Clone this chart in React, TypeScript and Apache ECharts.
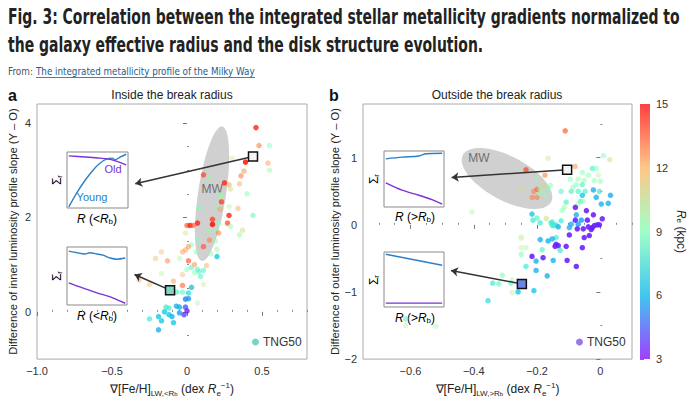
import React, { useEffect, useRef } from "react";
import * as echarts from "echarts";

const FONT = '"Liberation Sans", Arial, sans-serif';
const TITLE_FONT = '"Liberation Sans Narrow", "DejaVu Sans Condensed", "Liberation Sans", sans-serif';

const titleLines = [
  "Fig. 3: Correlation between the integrated stellar metallicity gradients normalized to",
  "the galaxy effective radius and the disk structure evolution.",
];
const sourceLabel = "From:";
const sourceLink = "The integrated metallicity profile of the Milky Way";
const panelTitles = ["Inside the break radius", "Outside the break radius"];
const seriesName = "TNG50";

// [gradient, slope difference, Re (kpc), visibility weight]
const leftPoints = [
  [0.46, 3.9, 14.5, 0.8], [0.48, 3.52, 13, 0.6], [0.55, 3.52, 9, 0.5], [0.39, 3.17, 14.5, 0.9],
  [0.54, 3.15, 12.5, 0.5], [0.55, 3.0, 10, 0.5], [0.3, 3.25, 10.5, 0.4], [0.38, 2.98, 12.5, 0.6],
  [0.36, 2.88, 13, 0.6], [0.11, 2.9, 14, 0.7], [0.15, 2.85, 9.5, 0.5], [0.25, 2.73, 14.5, 0.8],
  [0.28, 2.69, 12, 0.6], [0.29, 2.6, 11, 0.5], [0.35, 2.71, 12, 0.5], [0.22, 2.48, 9.5, 0.6],
  [0.23, 2.42, 10, 0.5], [0.4, 2.5, 9, 0.5], [0.23, 2.33, 14, 0.8], [0.08, 2.2, 9, 0.6],
  [0.2, 2.2, 9.5, 0.5], [0.28, 2.23, 10, 0.4], [0.34, 2.19, 12, 0.5], [0.28, 2.04, 14.5, 0.8],
  [0.17, 1.96, 14, 0.8], [0.44, 2.04, 8.5, 0.6], [0.07, 1.88, 14.5, 0.8], [0.17, 1.85, 15, 0.8],
  [0.27, 1.88, 14, 0.7], [0.0, 1.83, 13.5, 0.7], [0.02, 1.83, 14.5, 0.8], [0.21, 1.88, 9, 0.5],
  [0.29, 1.81, 9.5, 0.5], [0.14, 1.73, 9.5, 0.5], [0.19, 1.71, 9, 0.5], [-0.01, 1.67, 11, 0.4],
  [0.21, 1.67, 13, 0.6], [0.37, 1.73, 11, 0.5], [0.35, 1.63, 9.5, 0.5], [0.07, 1.54, 9, 0.5],
  [0.15, 1.52, 13, 0.6], [0.19, 1.5, 9.5, 0.5], [0.03, 1.42, 9, 0.5], [0.01, 1.38, 12.5, 0.6],
  [0.11, 1.38, 14, 0.6], [0.2, 1.33, 9.5, 0.5], [-0.01, 1.31, 12.5, 0.5], [-0.03, 1.27, 12.5, 0.5],
  [-0.17, 1.27, 12, 0.4], [0.06, 1.27, 9, 0.5], [0.16, 1.23, 9.5, 0.5], [0.2, 1.17, 6.5, 0.8],
  [-0.21, 1.13, 12, 0.4], [-0.13, 1.08, 13, 0.5], [-0.05, 1.13, 10, 0.4], [0.01, 1.08, 14, 0.6],
  [0.05, 1.0, 12.5, 0.6], [0.13, 0.98, 12, 0.5], [0.03, 0.94, 8, 0.6], [0.0, 0.9, 9, 0.5],
  [0.07, 0.9, 8, 0.6], [0.08, 0.85, 8, 0.6], [0.11, 0.88, 8, 0.6], [0.05, 0.83, 9, 0.5],
  [-0.03, 0.79, 12, 0.4], [0.09, 0.75, 8, 0.6], [-0.17, 0.81, 10, 0.4], [-0.32, 0.67, 12, 0.4],
  [-0.25, 0.58, 12, 0.4], [-0.09, 0.65, 12.5, 0.5], [-0.03, 0.56, 13.5, 0.6], [0.03, 0.52, 6.5, 0.8],
  [0.11, 0.58, 10.5, 0.4], [-0.07, 0.42, 8, 0.7], [-0.03, 0.42, 8, 0.6], [0.01, 0.4, 7, 0.7],
  [-0.01, 0.27, 5, 0.8], [0.01, 0.28, 5.5, 0.8], [0.07, 0.19, 10, 0.4], [-0.14, 0.1, 7.5, 0.7],
  [-0.12, 0.08, 7.5, 0.7], [-0.07, 0.12, 6, 0.8], [-0.05, 0.1, 6, 0.8], [-0.01, 0.1, 4.5, 0.8],
  [-0.15, 0.0, 6.5, 0.8], [-0.05, -0.02, 5.5, 0.8], [0.0, 0.02, 3.5, 0.8], [-0.02, -0.06, 4, 0.8],
  [-0.12, -0.06, 6.5, 0.8], [-0.1, -0.1, 6, 0.8], [-0.19, -0.1, 6.5, 0.8], [-0.25, -0.15, 7.5, 0.7],
  [-0.17, -0.19, 6.5, 0.8], [-0.09, -0.23, 6.5, 0.8], [-0.19, -0.38, 6, 0.8], [0.04, 1.83, 14, 0.6],
  [0.22, 2.17, 12.5, 0.5],
];

const rightPoints = [
  [-0.165, 0.99, 11, 0.4], [-0.235, 0.82, 14, 0.7], [-0.2, 0.7, 9.5, 0.4], [-0.175, 0.74, 13, 0.6],
  [-0.25, 0.54, 11, 0.4], [-0.21, 0.5, 13, 0.6], [-0.2, 0.53, 13.5, 0.6], [-0.19, 0.54, 9.5, 0.5],
  [-0.18, 0.57, 11, 0.5], [-0.165, 0.54, 9, 0.5], [-0.158, 0.59, 9, 0.5], [-0.215, 0.41, 13, 0.6],
  [-0.2, 0.41, 13, 0.6], [-0.19, 0.46, 9.5, 0.5], [-0.175, 0.44, 9, 0.5], [-0.406, 0.19, 10, 0.4],
  [-0.216, 0.16, 6.5, 0.8], [-0.2, 0.1, 8, 0.7], [-0.171, 0.1, 10.5, 0.4], [-0.19, 0.03, 7.5, 0.7],
  [-0.156, 0.03, 7.5, 0.7], [-0.146, -0.01, 7.5, 0.7], [-0.25, -0.18, 10.5, 0.4], [-0.19, -0.22, 6, 0.8],
  [-0.165, -0.24, 6, 0.8], [-0.111, 1.4, 13.5, 0.7], [-0.08, 0.87, 12.5, 0.6], [0.01, 1.03, 9, 0.5],
  [0.03, 0.97, 11, 0.5], [-0.057, 0.78, 9, 0.5], [-0.025, 0.84, 8, 0.7], [-0.013, 0.84, 9, 0.5],
  [-0.038, 0.74, 9, 0.5], [-0.006, 0.74, 10, 0.4], [-0.095, 0.68, 9, 0.5], [-0.07, 0.68, 9.5, 0.5],
  [-0.051, 0.66, 9.5, 0.5], [-0.019, 0.66, 9, 0.5], [0.0, 0.65, 9.5, 0.5], [-0.076, 0.6, 9, 0.5],
  [-0.057, 0.6, 8, 0.7], [-0.086, 0.56, 9, 0.5], [-0.092, 0.5, 8, 0.7], [-0.07, 0.5, 8, 0.7],
  [-0.124, 0.5, 8, 0.6], [-0.048, 0.5, 8, 0.7], [-0.022, 0.52, 6, 0.8], [-0.003, 0.5, 7.5, 0.7],
  [0.032, 0.44, 6, 0.8], [-0.013, 0.41, 6, 0.8], [-0.057, 0.44, 6.5, 0.8], [-0.063, 0.35, 8, 0.7],
  [-0.054, 0.35, 9.5, 0.5], [-0.108, 0.34, 8, 0.7], [0.003, 0.31, 6, 0.8], [0.025, 0.32, 6, 0.8],
  [-0.07, 0.31, 9.5, 0.5], [-0.079, 0.26, 3.5, 0.9], [-0.114, 0.26, 9.5, 0.5], [-0.121, 0.21, 9, 0.5],
  [-0.044, 0.21, 3.5, 0.9], [-0.022, 0.15, 3.5, 0.9], [-0.076, 0.15, 6, 0.8], [-0.213, 0.07, 7.5, 0.7],
  [-0.171, 0.09, 11, 0.4], [-0.152, 0.04, 7.5, 0.7], [-0.124, 0.06, 7.5, 0.7], [-0.079, 0.07, 3.5, 0.9],
  [-0.06, 0.07, 5.5, 0.8], [-0.041, 0.07, 3.5, 0.9], [0.006, 0.09, 3.5, 0.9], [-0.07, 0.01, 5.5, 0.8],
  [-0.092, 0.01, 6, 0.8], [-0.14, 0.0, 7.5, 0.7], [-0.152, -0.01, 7.5, 0.7], [-0.133, -0.03, 6, 0.8],
  [-0.098, -0.04, 6, 0.8], [-0.073, -0.06, 3.5, 0.9], [-0.054, -0.06, 3.5, 0.9], [-0.038, -0.03, 3.5, 0.9],
  [-0.025, -0.04, 3.5, 0.9], [-0.019, -0.01, 3.5, 0.9], [-0.01, 0.0, 3.5, 0.9], [-0.003, 0.0, 3.5, 0.9],
  [-0.029, -0.07, 3.5, 0.9], [-0.098, -0.15, 3.5, 0.9], [-0.051, -0.19, 3.5, 0.9], [-0.035, -0.16, 3.5, 0.9],
  [-0.14, -0.19, 7.5, 0.7], [-0.152, -0.21, 6, 0.8], [-0.14, -0.29, 3.5, 0.9], [-0.133, -0.31, 3.5, 0.9],
  [-0.143, -0.32, 3.5, 0.9], [-0.108, -0.32, 3.5, 0.9], [-0.127, -0.38, 7.5, 0.7], [-0.057, -0.34, 3.5, 0.9],
  [-0.184, -0.37, 8, 0.7], [-0.216, -0.47, 3.5, 0.9], [-0.181, -0.49, 3.5, 0.9], [-0.203, -0.54, 6, 0.8],
  [-0.149, -0.53, 6, 0.8], [-0.105, -0.53, 3.5, 0.9], [-0.076, -0.62, 3.5, 0.9], [-0.203, -0.68, 6, 0.8],
  [-0.168, -0.76, 6, 0.8], [-0.25, -0.44, 9, 0.6], [-0.25, -0.34, 10.5, 0.4], [-0.235, -0.34, 9.5, 0.4],
  [-0.25, -0.21, 10.5, 0.3], [-0.235, -0.62, 7.5, 0.7], [-0.31, -0.75, 9, 0.6], [-0.279, -0.82, 10, 0.4],
  [-0.34, -0.87, 7.5, 0.7], [-0.321, -0.88, 8, 0.6], [-0.283, -0.87, 8, 0.6], [-0.26, -1.0, 6.5, 0.8],
  [-0.279, -1.01, 10, 0.4], [-0.21, -0.98, 6.5, 0.8], [-0.355, -1.13, 7, 0.7], [-0.615, -1.4, 8, 0.6],
  [-0.615, -1.5, 10.5, 0.4], [-0.52, -1.51, 10, 0.4],
];

// highlighted galaxies [x, y] and arrow end points (towards the insets)
const leftHighlights = [[0.44, 3.29], [-0.113, 0.46]];
const leftArrowEnds = [[-0.345, 2.71], [-0.35, 0.79]];
const rightHighlights = [[-0.105, 0.82], [-0.248, -0.88]];
const rightArrowEnds = [[-0.47, 0.706], [-0.472, -0.68]];
const leftMW = [[0.167, 2.5]];
const rightMW = [[-0.295, 0.69]];

const leftXTicks = [-1, -0.5, 0, 0.5];
const leftXMinor = [-0.9, -0.8, -0.7, -0.6, -0.4, -0.3, -0.2, -0.1, 0.1, 0.2, 0.3, 0.4, 0.6, 0.7, 0.8];
const leftYTicks = [0, 2, 4];
const leftYMinor = [-0.5, 0.5, 1, 1.5, 2.5, 3, 3.5];
const rightXTicks = [-0.6, -0.4, -0.2, 0];
const rightXMinor = [-0.7, -0.65, -0.55, -0.5, -0.45, -0.35, -0.3, -0.25, -0.15, -0.1, -0.05, 0.05, 0.1];
const rightYTicks = [-2, -1, 0, 1];
const rightYMinor = [-1.5, -0.5, 0.5, 1.5];
const colorTicks = [3, 6, 9, 12, 15];

// inset profiles (normalised radius, normalised surface density)
const insetA1Young = [[0.03, 0.02], [0.16, 0.27], [0.3, 0.5], [0.43, 0.68], [0.54, 0.8], [0.66, 0.88], [0.74, 0.89], [0.79, 0.86], [0.87, 0.91], [0.97, 0.96]];
const insetA1Old = [[0.03, 0.93], [0.3, 0.91], [0.54, 0.89], [0.74, 0.86], [0.97, 0.77]];
const insetA2Young = [[0.03, 0.93], [0.17, 0.9], [0.3, 0.88], [0.38, 0.9], [0.5, 0.88], [0.6, 0.86], [0.72, 0.81], [0.83, 0.79], [0.97, 0.81]];
const insetA2Old = [[0.03, 0.38], [0.27, 0.29], [0.5, 0.21], [0.72, 0.14], [0.97, 0.03]];
const insetB1Young = [[0.03, 0.86], [0.3, 0.89], [0.58, 0.91], [0.7, 0.95], [0.97, 0.96]];
const insetB1Old = [[0.03, 0.43], [0.3, 0.3], [0.58, 0.21], [0.8, 0.13], [0.97, 0.05]];
const insetB2Young = [[0.03, 0.96], [0.97, 0.76]];
const insetB2Old = [[0.03, 0.07], [0.97, 0.07]];

const YOUNG = "#2b7fc6";
const OLD = "#7a32d6";

function rainbow(t: number, a = 1) {
  const r = Math.min(1, Math.abs(2 * t - 0.5));
  const g = Math.sin(Math.PI * t);
  const b = Math.cos((Math.PI * t) / 2);
  const mix = (c: number) => Math.round(255 * (c * a + (1 - a)));
  return `rgb(${mix(r)},${mix(g)},${mix(b)})`;
}
const rainbowStops = [0, 0.1, 0.2, 0.3, 0.4, 0.5, 0.6, 0.7, 0.8, 0.9, 1].map((t) => rainbow(t));

const fmt = (d: number) => (v: number) =>
  v === 0 ? "0" : (v < 0 ? "\u2212" : "") + Math.abs(v).toFixed(d);

const axisText = { color: "#333", fontSize: 11, fontFamily: FONT };
const nameRich = {
  n: { fontSize: 12, fontFamily: FONT, color: "#222" },
  i: { fontSize: 12, fontFamily: FONT, color: "#222", fontStyle: "italic" },
  s: { fontSize: 8, fontFamily: FONT, color: "#222", verticalAlign: "bottom", lineHeight: 9 },
  ss: { fontSize: 6, fontFamily: FONT, color: "#222", verticalAlign: "bottom", lineHeight: 6 },
  p: { fontSize: 8, fontFamily: FONT, color: "#222", verticalAlign: "top", lineHeight: 9 },
};

function mainX(grid: number, min: number, max: number, ticks: number[], d: number, name: string) {
  return {
    gridIndex: grid, type: "value", min, max,
    axisLine: { show: false }, splitLine: { show: false },
    axisTick: { customValues: ticks, length: 4, lineStyle: { color: "#777" } },
    axisLabel: { customValues: ticks, formatter: fmt(d), margin: 6, ...axisText },
    name, nameLocation: "middle", nameGap: 18,
    nameTextStyle: { fontSize: 12, fontFamily: FONT, color: "#222", lineHeight: 16, rich: nameRich },
  };
}
function mainY(grid: number, min: number, max: number, ticks: number[], name: string, gap: number) {
  return {
    gridIndex: grid, type: "value", min, max,
    axisLine: { show: false }, splitLine: { show: false },
    axisTick: { customValues: ticks, length: 4, lineStyle: { color: "#777" } },
    axisLabel: { customValues: ticks, formatter: fmt(0), margin: 6, ...axisText },
    name, nameLocation: "middle", nameGap: gap,
    nameTextStyle: { fontSize: 11.2, fontFamily: FONT, color: "#222" },
  };
}
function minorAxis(grid: number, min: number, max: number, ticks: number[]) {
  return {
    gridIndex: grid, type: "value", min, max,
    axisLine: { show: false }, splitLine: { show: false }, axisLabel: { show: false },
    axisTick: { customValues: ticks, length: 2, lineStyle: { color: "#888" } },
  };
}
function hiddenAxis(grid: number) {
  return { gridIndex: grid, type: "value", min: 0, max: 1, show: false };
}

function ellipseSeries(xi: number, data: number[][], rx: number, ry: number, rot: number, dx: number, dy: number) {
  return {
    type: "custom", xAxisIndex: xi, yAxisIndex: xi, z: 1, silent: true, data,
    renderItem: (_p: any, api: any) => {
      const c = api.coord([api.value(0), api.value(1)]);
      return {
        type: "group",
        children: [
          { type: "ellipse", x: c[0], y: c[1], rotation: rot, shape: { cx: 0, cy: 0, rx, ry }, style: { fill: "#c4c4c4", opacity: 0.8 } },
          { type: "text", x: c[0] + dx, y: c[1] + dy, style: { text: "MW", fill: "#6f6f6f", fontSize: 12, fontFamily: FONT, align: "center", verticalAlign: "middle" } },
        ],
      };
    },
  };
}

function scatterData(pts: number[][]) {
  return pts.map((p) => p.slice());
}

function insetLine(idx: number, data: number[][], color: string) {
  return {
    type: "line", xAxisIndex: idx, yAxisIndex: idx, data, showSymbol: false, symbol: "none",
    smooth: 0.3, silent: true, lineStyle: { color, width: 1.4 },
  };
}

function arrowSeries(xi: number, starts: number[][], ends: number[][]) {
  return {
    type: "lines", coordinateSystem: "cartesian2d", xAxisIndex: xi, yAxisIndex: xi, z: 3, silent: true,
    symbol: ["none", "arrow"], symbolSize: 7,
    lineStyle: { color: "#333", width: 1.5, opacity: 1 },
    data: starts.map((s, i) => ({ coords: [s, ends[i]] })),
  };
}

function squareSeries(xi: number, pts: number[][], fills: string[]) {
  return {
    type: "scatter", xAxisIndex: xi, yAxisIndex: xi, z: 5, symbol: "rect", symbolSize: 9, silent: true,
    data: pts.map((p, i) => ({ value: p, itemStyle: { color: fills[i], borderColor: "#111", borderWidth: 1.5, opacity: 1 } })),
  };
}

export default function App() {
  const ref = useRef<HTMLDivElement>(null);
  useEffect(() => {
    document.body.style.margin = "0";
    const chart = echarts.init(ref.current!, null, { renderer: "svg" });
    const ctx = document.createElement("canvas").getContext("2d")!;
    const measure = (font: string, text: string) => {
      ctx.font = font;
      return ctx.measureText(text).width;
    };
    const titleFont = `bold 21px ${TITLE_FONT}`;
    const t1s = 672 / measure(titleFont, titleLines[0]);
    const t2s = 475 / measure(titleFont, titleLines[1]);
    const srcFont = `11px ${TITLE_FONT}`;
    const s1 = 25 / measure(srcFont, sourceLabel);
    const s2 = 219 / measure(srcFont, sourceLink);

    const xName = (sym: string) =>
      `{n|\u2207[Fe/H]}{s|LW,${sym}R}{ss|b}{n| (dex }{i|R}{s|e}{p|\u22121}{n|)}`;

    const rLabel = (x: number, y: number, sym: string) => ({
      type: "text", x, y,
      style: {
        text: `{i|R}{n| (${sym}}{i|R}{s|b}{n|)}`, align: "center", verticalAlign: "middle",
        rich: nameRich,
      },
    });
    const sigLabel = (x: number, y: number) => ({
      type: "text", x, y, rotation: Math.PI / 2,
      style: {
        text: "{n|\u03A3}{s|r}", align: "center", verticalAlign: "middle", rich: nameRich,
      },
    });

    const option: any = {
      animation: false,
      grid: [
        { left: 37, top: 104, width: 270, height: 259, show: true, borderColor: "#aaa", borderWidth: 1 },
        { left: 363, top: 104, width: 269, height: 259, show: true, borderColor: "#aaa", borderWidth: 1 },
        { left: 640, top: 104, width: 10, height: 255 },
        { left: 67, top: 152, width: 61, height: 56, show: true, borderColor: "#8a8a8a", borderWidth: 1, backgroundColor: "#fff" },
        { left: 67, top: 247, width: 60, height: 58, show: true, borderColor: "#8a8a8a", borderWidth: 1, backgroundColor: "#fff" },
        { left: 384, top: 151, width: 60, height: 56, show: true, borderColor: "#8a8a8a", borderWidth: 1, backgroundColor: "#fff" },
        { left: 384, top: 252, width: 60, height: 55, show: true, borderColor: "#8a8a8a", borderWidth: 1, backgroundColor: "#fff" },
      ],
      xAxis: [
        mainX(0, -1, 0.8, leftXTicks, 1, xName("<")),
        minorAxis(0, -1, 0.8, leftXMinor),
        mainX(1, -0.75, 0.1, rightXTicks, 1, xName(">")),
        minorAxis(1, -0.75, 0.1, rightXMinor),
        hiddenAxis(2), hiddenAxis(3), hiddenAxis(4), hiddenAxis(5), hiddenAxis(6),
      ],
      yAxis: [
        mainY(0, -1, 4.4, leftYTicks, "Difference of inner luminosity profile slope (Y \u2013 O)", 19),
        minorAxis(0, -1, 4.4, leftYMinor),
        mainY(1, -2, 1.8, rightYTicks, "Difference of outer luminosity profile slope (Y \u2013 O)", 21),
        minorAxis(1, -2, 1.8, rightYMinor),
        {
          gridIndex: 2, type: "value", min: 3, max: 15, position: "right",
          axisLine: { show: false }, splitLine: { show: false },
          axisTick: { customValues: colorTicks, length: 4, lineStyle: { color: "#777" } },
          axisLabel: { customValues: colorTicks, margin: 6, ...axisText },
          name: "{i|R}{s|e}{n| (kpc)}", nameLocation: "middle", nameGap: 25, nameRotate: -90,
          nameTextStyle: { fontSize: 12, fontFamily: FONT, color: "#222", rich: nameRich },
        },
        hiddenAxis(3), hiddenAxis(4), hiddenAxis(5), hiddenAxis(6),
      ],
      visualMap: [
        { type: "continuous", show: false, min: 3, max: 15, dimension: 2, seriesIndex: [2, 3], inRange: { color: rainbowStops } },
        { type: "continuous", show: false, min: 0, max: 1, dimension: 3, seriesIndex: [2, 3], inRange: { opacity: [0, 1] } },
      ],
      legend: [
        {
          data: [{ name: seriesName, itemStyle: { color: "#55c9b8" } }], left: 252, top: 336, icon: "circle",
          itemWidth: 7, itemHeight: 7, padding: 0, selectedMode: false,
          textStyle: { fontSize: 12, color: "#333", fontFamily: FONT, padding: [0, 0, 0, -1] },
        },
        {
          data: [{ name: seriesName, itemStyle: { color: "#7e55e3" } }], left: 576, top: 336, icon: "circle",
          itemWidth: 7, itemHeight: 7, padding: 0, selectedMode: false,
          textStyle: { fontSize: 12, color: "#333", fontFamily: FONT, padding: [0, 0, 0, -1] },
        },
      ],
      series: [
        ellipseSeries(0, leftMW, 14, 68, -0.15, 0, -5),
        ellipseSeries(2, rightMW, 50, 22, -0.49, -28, -21),
        { type: "scatter", name: seriesName, xAxisIndex: 0, yAxisIndex: 0, z: 2, symbolSize: 5.5, data: scatterData(leftPoints) },
        { type: "scatter", name: seriesName, xAxisIndex: 2, yAxisIndex: 2, z: 2, symbolSize: 5.5, data: scatterData(rightPoints) },
        arrowSeries(0, leftHighlights, leftArrowEnds),
        arrowSeries(2, rightHighlights, rightArrowEnds),
        squareSeries(0, leftHighlights, ["#f4f4f4", "#7fd6c2"]),
        squareSeries(2, rightHighlights, ["#f4f4f4", "#6a86e0"]),
        {
          type: "custom", xAxisIndex: 4, yAxisIndex: 4, silent: true, data: [[0, 3, 1, 15]],
          renderItem: (_p: any, api: any) => {
            const p0 = api.coord([api.value(0), api.value(3)]);
            const p1 = api.coord([api.value(2), api.value(1)]);
            const stops = [1, 0.75, 0.5, 0.25, 0].map((t, i) => ({ offset: i / 4, color: rainbow(t, 0.75) }));
            return {
              type: "rect",
              shape: { x: p0[0], y: p0[1], width: p1[0] - p0[0], height: p1[1] - p0[1] },
              style: { fill: new echarts.graphic.LinearGradient(0, 0, 0, 1, stops) },
            };
          },
        },
        insetLine(5, insetA1Young, YOUNG), insetLine(5, insetA1Old, OLD),
        insetLine(6, insetA2Young, YOUNG), insetLine(6, insetA2Old, OLD),
        insetLine(7, insetB1Young, YOUNG), insetLine(7, insetB1Old, OLD),
        insetLine(8, insetB2Young, YOUNG), insetLine(8, insetB2Old, OLD),
      ],
      graphic: [
        { type: "text", x: 8, y: 17, scaleX: t1s, style: { text: titleLines[0], font: titleFont, fill: "#222", verticalAlign: "middle" } },
        { type: "text", x: 8, y: 45, scaleX: t2s, style: { text: titleLines[1], font: titleFont, fill: "#222", verticalAlign: "middle" } },
        { type: "text", x: 8, y: 71, scaleX: s1, style: { text: sourceLabel, font: srcFont, fill: "#555", verticalAlign: "middle" } },
        { type: "text", x: 36, y: 71, scaleX: s2, style: { text: sourceLink, font: srcFont, fill: "#1f5d8c", verticalAlign: "middle" } },
        { type: "line", shape: { x1: 36, y1: 77.5, x2: 255, y2: 77.5 }, style: { stroke: "#1f5d8c", lineWidth: 0.8 } },
        { type: "text", x: 8, y: 95, style: { text: "a", font: `bold 16px ${FONT}`, fill: "#111", verticalAlign: "middle" } },
        { type: "text", x: 329, y: 95, style: { text: "b", font: `bold 16px ${FONT}`, fill: "#111", verticalAlign: "middle" } },
        { type: "text", x: 172, y: 95, style: { text: panelTitles[0], font: `12px ${FONT}`, fill: "#222", align: "center", verticalAlign: "middle" } },
        { type: "text", x: 497, y: 95, style: { text: panelTitles[1], font: `12px ${FONT}`, fill: "#222", align: "center", verticalAlign: "middle" } },
        { type: "text", x: 113, y: 169, style: { text: "Old", font: `11px ${FONT}`, fill: OLD, align: "center", verticalAlign: "middle" } },
        { type: "text", x: 92, y: 197, style: { text: "Young", font: `11px ${FONT}`, fill: YOUNG, align: "center", verticalAlign: "middle" } },
        sigLabel(57, 180), sigLabel(57, 276), sigLabel(374, 179), sigLabel(374, 280),
        rLabel(97, 219, "<"), rLabel(97, 316, "<"), rLabel(415, 217, ">"), rLabel(415, 318, ">"),
      ],
    };
    chart.setOption(option);
    return () => chart.dispose();
  }, []);
  return <div ref={ref} style={{ position: "absolute", left: 0, top: 0, width: 696, height: 402 }} />;
}
